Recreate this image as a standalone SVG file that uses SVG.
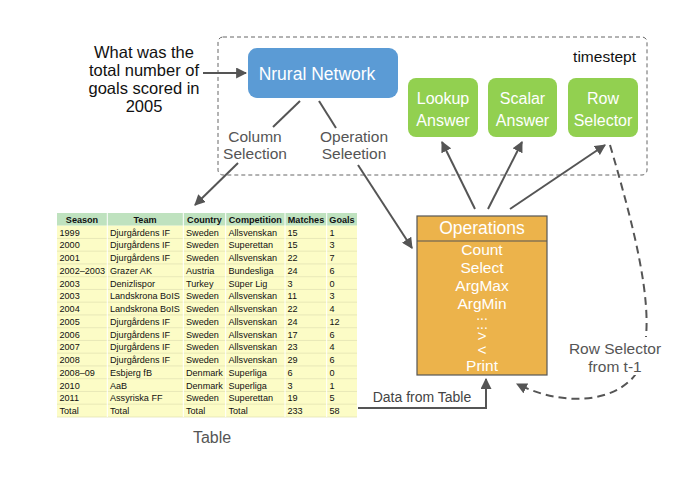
<svg xmlns="http://www.w3.org/2000/svg" width="697" height="477" viewBox="0 0 697 477">
<defs>
<marker id="ah" viewBox="0 0 10 10" refX="9" refY="5" markerWidth="11" markerHeight="11" markerUnits="userSpaceOnUse" orient="auto">
<path d="M0,0 L10,5 L0,10 z" fill="#555"/>
</marker>
</defs>
<style>
text{font-family:"Liberation Sans",Arial,sans-serif}
.lbl{fill:#555;font-size:15.5px;text-anchor:middle}
.wh{fill:#fff;text-anchor:middle}
.conn{stroke:#555;stroke-width:2;fill:none}
.td{font-size:9.1px;fill:#111}
.th{font-size:9.1px;fill:#111;font-weight:bold;text-anchor:middle}
.ops{font-size:15.5px}
.dots{font-size:14px}
</style>
<rect width="697" height="477" fill="#fff"/>

<g id="timestep">
<rect x="218" y="37" width="429" height="138" rx="5" fill="none" stroke="#666" stroke-width="1" stroke-dasharray="4,3"/>
<text x="636" y="62" font-size="15.5" text-anchor="end" fill="#111">timestept</text>
</g>

<g id="question">
<text x="144" y="58" font-size="16.5" text-anchor="middle" fill="#111">What was the</text>
<text x="144" y="76" font-size="16.5" text-anchor="middle" fill="#111">total number of</text>
<text x="144" y="94" font-size="16.5" text-anchor="middle" fill="#111">goals scored in</text>
<text x="144" y="112" font-size="16.5" text-anchor="middle" fill="#111">2005</text>
</g>

<g id="neural-network">
<rect x="248" y="48" width="150" height="50" rx="9" fill="#5b9bd5"/>
<text x="317" y="80" class="wh" font-size="17.5">Nrural Network</text>
</g>

<g id="lookup-answer">
<rect x="408" y="78" width="70" height="59" rx="8" fill="#92d050"/>
<text x="443" y="104" class="wh" font-size="16">Lookup</text>
<text x="443" y="126" class="wh" font-size="16">Answer</text>
</g>
<g id="scalar-answer">
<rect x="488" y="78" width="69" height="59" rx="8" fill="#92d050"/>
<text x="522.5" y="104" class="wh" font-size="16">Scalar</text>
<text x="522.5" y="126" class="wh" font-size="16">Answer</text>
</g>
<g id="row-selector">
<rect x="568" y="78" width="70" height="59" rx="8" fill="#92d050"/>
<text x="603" y="104" class="wh" font-size="16">Row</text>
<text x="603" y="126" class="wh" font-size="16">Selector</text>
</g>

<g id="operations">
<rect x="417" y="216" width="130" height="159" fill="#ecb34b" stroke="#555" stroke-width="1.2"/>
<line x1="417" y1="241" x2="547" y2="241" stroke="#555" stroke-width="1.2"/>
<text x="482" y="234" class="wh" font-size="17.5">Operations</text>
<text x="482" y="255" class="wh ops">Count</text>
<text x="482" y="272.5" class="wh ops">Select</text>
<text x="482" y="291" class="wh ops">ArgMax</text>
<text x="482" y="309" class="wh ops">ArgMin</text>
<text x="482" y="320" class="wh dots">...</text>
<text x="482" y="329" class="wh dots">...</text>
<text x="482" y="341" class="wh ops">&gt;</text>
<text x="482" y="354.5" class="wh ops">&lt;</text>
<text x="482" y="371" class="wh ops">Print</text>
</g>

<g id="table">
<rect x="57" y="213" width="300" height="12.7" fill="#bfe2bf"/>
<rect x="57" y="225.7" width="300" height="191.3" fill="#fcfcc6"/>
<g stroke="#e3e3b4" stroke-width="0.8">
<line x1="57" y1="238.45" x2="357" y2="238.45"/>
<line x1="57" y1="251.2" x2="357" y2="251.2"/>
<line x1="57" y1="263.95" x2="357" y2="263.95"/>
<line x1="57" y1="276.7" x2="357" y2="276.7"/>
<line x1="57" y1="289.45" x2="357" y2="289.45"/>
<line x1="57" y1="302.2" x2="357" y2="302.2"/>
<line x1="57" y1="314.95" x2="357" y2="314.95"/>
<line x1="57" y1="327.7" x2="357" y2="327.7"/>
<line x1="57" y1="340.45" x2="357" y2="340.45"/>
<line x1="57" y1="353.2" x2="357" y2="353.2"/>
<line x1="57" y1="365.95" x2="357" y2="365.95"/>
<line x1="57" y1="378.7" x2="357" y2="378.7"/>
<line x1="57" y1="391.45" x2="357" y2="391.45"/>
<line x1="57" y1="404.2" x2="357" y2="404.2"/>
<line x1="57" y1="417" x2="357" y2="417"/>
</g>
<g stroke="#fff" stroke-width="1">
<line x1="107.3" y1="213" x2="107.3" y2="417"/>
<line x1="183.3" y1="213" x2="183.3" y2="417"/>
<line x1="225.7" y1="213" x2="225.7" y2="417"/>
<line x1="285" y1="213" x2="285" y2="417"/>
<line x1="326.7" y1="213" x2="326.7" y2="417"/>
</g>
<text class="th" x="82" y="223">Season</text>
<text class="th" x="145" y="223">Team</text>
<text class="th" x="204.5" y="223">Country</text>
<text class="th" x="255.3" y="223">Competition</text>
<text class="th" x="306" y="223">Matches</text>
<text class="th" x="342" y="223">Goals</text>

<g class="td">
<text x="59.5" y="235.5">1999</text><text x="110" y="235.5">Djurgårdens IF</text><text x="186" y="235.5">Sweden</text><text x="228.5" y="235.5">Allsvenskan</text><text x="287.5" y="235.5">15</text><text x="329.5" y="235.5">1</text>
<text x="59.5" y="248.25">2000</text><text x="110" y="248.25">Djurgårdens IF</text><text x="186" y="248.25">Sweden</text><text x="228.5" y="248.25">Superettan</text><text x="287.5" y="248.25">15</text><text x="329.5" y="248.25">3</text>
<text x="59.5" y="261">2001</text><text x="110" y="261">Djurgårdens IF</text><text x="186" y="261">Sweden</text><text x="228.5" y="261">Allsvenskan</text><text x="287.5" y="261">22</text><text x="329.5" y="261">7</text>
<text x="59.5" y="273.75">2002–2003</text><text x="110" y="273.75">Grazer AK</text><text x="186" y="273.75">Austria</text><text x="228.5" y="273.75">Bundesliga</text><text x="287.5" y="273.75">24</text><text x="329.5" y="273.75">6</text>
<text x="59.5" y="286.5">2003</text><text x="110" y="286.5">Denizlispor</text><text x="186" y="286.5">Turkey</text><text x="228.5" y="286.5">Süper Lig</text><text x="287.5" y="286.5">3</text><text x="329.5" y="286.5">0</text>
<text x="59.5" y="299.25">2003</text><text x="110" y="299.25">Landskrona BoIS</text><text x="186" y="299.25">Sweden</text><text x="228.5" y="299.25">Allsvenskan</text><text x="287.5" y="299.25">11</text><text x="329.5" y="299.25">3</text>
<text x="59.5" y="312">2004</text><text x="110" y="312">Landskrona BoIS</text><text x="186" y="312">Sweden</text><text x="228.5" y="312">Allsvenskan</text><text x="287.5" y="312">22</text><text x="329.5" y="312">4</text>
<text x="59.5" y="324.75">2005</text><text x="110" y="324.75">Djurgårdens IF</text><text x="186" y="324.75">Sweden</text><text x="228.5" y="324.75">Allsvenskan</text><text x="287.5" y="324.75">24</text><text x="329.5" y="324.75">12</text>
<text x="59.5" y="337.5">2006</text><text x="110" y="337.5">Djurgårdens IF</text><text x="186" y="337.5">Sweden</text><text x="228.5" y="337.5">Allsvenskan</text><text x="287.5" y="337.5">17</text><text x="329.5" y="337.5">6</text>
<text x="59.5" y="350.25">2007</text><text x="110" y="350.25">Djurgårdens IF</text><text x="186" y="350.25">Sweden</text><text x="228.5" y="350.25">Allsvenskan</text><text x="287.5" y="350.25">23</text><text x="329.5" y="350.25">4</text>
<text x="59.5" y="363">2008</text><text x="110" y="363">Djurgårdens IF</text><text x="186" y="363">Sweden</text><text x="228.5" y="363">Allsvenskan</text><text x="287.5" y="363">29</text><text x="329.5" y="363">6</text>
<text x="59.5" y="375.75">2008–09</text><text x="110" y="375.75">Esbjerg fB</text><text x="186" y="375.75">Denmark</text><text x="228.5" y="375.75">Superliga</text><text x="287.5" y="375.75">6</text><text x="329.5" y="375.75">0</text>
<text x="59.5" y="388.5">2010</text><text x="110" y="388.5">AaB</text><text x="186" y="388.5">Denmark</text><text x="228.5" y="388.5">Superliga</text><text x="287.5" y="388.5">3</text><text x="329.5" y="388.5">1</text>
<text x="59.5" y="401.25">2011</text><text x="110" y="401.25">Assyriska FF</text><text x="186" y="401.25">Sweden</text><text x="228.5" y="401.25">Superettan</text><text x="287.5" y="401.25">19</text><text x="329.5" y="401.25">5</text>
<text x="59.5" y="414">Total</text><text x="110" y="414">Total</text><text x="186" y="414">Total</text><text x="228.5" y="414">Total</text><text x="287.5" y="414">233</text><text x="329.5" y="414">58</text>
</g>
<text x="212" y="443" font-size="16" text-anchor="middle" fill="#555">Table</text>
</g>

<g id="connectors">
<path class="conn" d="M203 73 L246 73" marker-end="url(#ah)"/>
<path class="conn" d="M300 101 L273 127"/>
<path class="conn" d="M319 101 L336 128"/>
<path class="conn" d="M238 163 L195 205" marker-end="url(#ah)"/>
<path class="conn" d="M358 165 L412 248" marker-end="url(#ah)"/>
<path class="conn" d="M475 209 L442 142" marker-end="url(#ah)"/>
<path class="conn" d="M488 209 L522 142" marker-end="url(#ah)"/>
<path class="conn" d="M510 209 L605 145" marker-end="url(#ah)"/>
<path class="conn" d="M358 408 L486 408 L486 379" marker-end="url(#ah)"/>
<path class="conn" stroke-dasharray="8,5" d="M610 145 C635 230 652 300 645 345 C645 395 580 415 517 384" marker-end="url(#ah)"/>
<rect x="565" y="337" width="100" height="38" fill="#fff"/>
<text x="255" y="142" class="lbl">Column</text>
<text x="255" y="159" class="lbl">Selection</text>
<text x="354" y="142" class="lbl">Operation</text>
<text x="354" y="159" class="lbl">Seleetion</text>
<text x="422" y="402" font-size="14" text-anchor="middle" fill="#444">Data from Table</text>
<text x="615" y="354" class="lbl" font-size="16">Row Selector</text>
<text x="615" y="372" class="lbl" font-size="16">from t-1</text>
</g>
</svg>
